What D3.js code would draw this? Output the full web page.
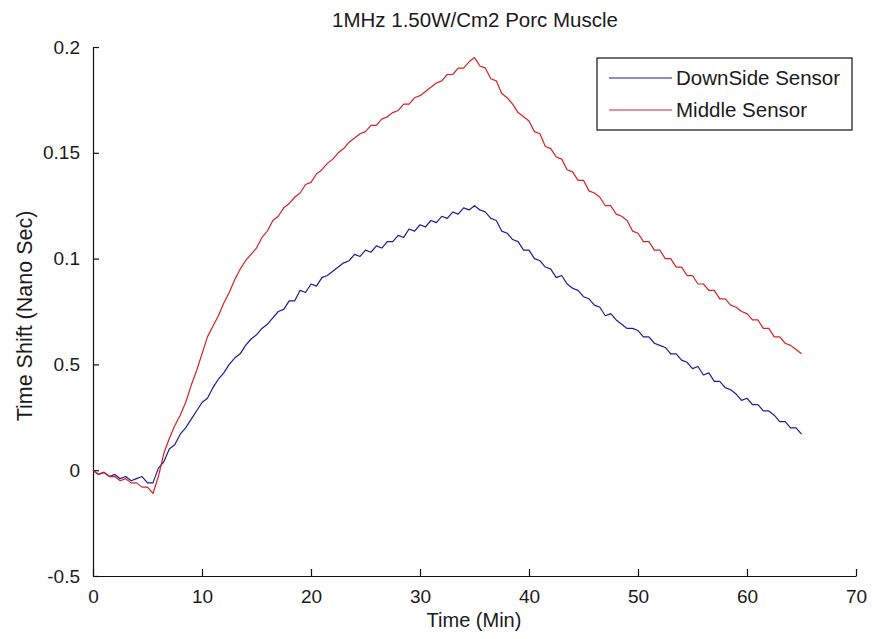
<!DOCTYPE html>
<html>
<head>
<meta charset="utf-8">
<script src="https://cdn.jsdelivr.net/npm/d3@7"></script>
<style>
  body { margin: 0; background: #fff; }
  svg { display: block; }
  text { font-family: "Liberation Sans", Arial, sans-serif; fill: #1a1a1a; }
</style>
</head>
<body>
<div id="chart"></div>
<script>
// Time samples (min)
const timeMin = [
  0, 0.5, 1, 1.5, 2, 2.5, 3, 3.5, 4, 4.5, 5, 5.5, 6, 6.5, 7, 7.5, 8, 8.5, 9, 9.5,
  10, 10.5, 11, 11.5, 12, 12.5, 13, 13.5, 14, 14.5, 15, 15.5, 16, 16.5, 17, 17.5, 18, 18.5, 19, 19.5,
  20, 20.5, 21, 21.5, 22, 22.5, 23, 23.5, 24, 24.5, 25, 25.5, 26, 26.5, 27, 27.5, 28, 28.5, 29, 29.5,
  30, 30.5, 31, 31.5, 32, 32.5, 33, 33.5, 34, 34.5, 35, 35.5, 36, 36.5, 37, 37.5, 38, 38.5, 39, 39.5,
  40, 40.5, 41, 41.5, 42, 42.5, 43, 43.5, 44, 44.5, 45, 45.5, 46, 46.5, 47, 47.5, 48, 48.5, 49, 49.5,
  50, 50.5, 51, 51.5, 52, 52.5, 53, 53.5, 54, 54.5, 55, 55.5, 56, 56.5, 57, 57.5, 58, 58.5, 59, 59.5,
  60, 60.5, 61, 61.5, 62, 62.5, 63, 63.5, 64, 64.5, 65
];

// DownSide Sensor (blue)
const downSide = [
  0.000, -0.002, -0.001, -0.003, -0.002, -0.004, -0.003, -0.005, -0.004, -0.003, -0.006, -0.006, 0.001, 0.004, 0.010, 0.012, 0.017, 0.020, 0.024, 0.028,
  0.032, 0.034, 0.039, 0.043, 0.046, 0.050, 0.053, 0.055, 0.059, 0.062, 0.064, 0.067, 0.069, 0.072, 0.075, 0.076, 0.080, 0.080, 0.085, 0.084,
  0.088, 0.087, 0.091, 0.092, 0.094, 0.096, 0.098, 0.099, 0.102, 0.101, 0.104, 0.103, 0.106, 0.105, 0.108, 0.108, 0.111, 0.110, 0.114, 0.113,
  0.116, 0.115, 0.118, 0.117, 0.120, 0.119, 0.122, 0.121, 0.124, 0.123, 0.125, 0.123, 0.122, 0.119, 0.118, 0.113, 0.112, 0.109, 0.108, 0.104,
  0.104, 0.100, 0.099, 0.096, 0.095, 0.091, 0.092, 0.088, 0.086, 0.085, 0.082, 0.081, 0.078, 0.077, 0.073, 0.074, 0.071, 0.069, 0.067, 0.067,
  0.066, 0.063, 0.063, 0.060, 0.059, 0.058, 0.055, 0.055, 0.052, 0.051, 0.048, 0.049, 0.045, 0.046, 0.042, 0.042, 0.039, 0.038, 0.036, 0.033,
  0.034, 0.031, 0.031, 0.028, 0.028, 0.026, 0.023, 0.023, 0.020, 0.020, 0.017
];

// Middle Sensor (red)
const middle = [
  0.000, -0.002, -0.001, -0.003, -0.003, -0.005, -0.004, -0.006, -0.006, -0.008, -0.008, -0.011, -0.003, 0.008, 0.015, 0.021, 0.026, 0.032, 0.040, 0.047,
  0.055, 0.063, 0.068, 0.073, 0.079, 0.084, 0.090, 0.095, 0.099, 0.102, 0.105, 0.110, 0.113, 0.118, 0.120, 0.124, 0.126, 0.129, 0.131, 0.135,
  0.136, 0.140, 0.142, 0.145, 0.147, 0.150, 0.152, 0.155, 0.157, 0.159, 0.160, 0.163, 0.163, 0.166, 0.167, 0.169, 0.170, 0.173, 0.173, 0.176,
  0.177, 0.179, 0.181, 0.183, 0.184, 0.187, 0.187, 0.190, 0.190, 0.193, 0.195, 0.191, 0.190, 0.185, 0.184, 0.178, 0.176, 0.173, 0.169, 0.167,
  0.165, 0.160, 0.159, 0.153, 0.152, 0.148, 0.147, 0.142, 0.141, 0.137, 0.137, 0.132, 0.131, 0.129, 0.125, 0.125, 0.121, 0.120, 0.118, 0.113,
  0.112, 0.108, 0.108, 0.104, 0.104, 0.100, 0.100, 0.096, 0.096, 0.092, 0.092, 0.088, 0.088, 0.085, 0.085, 0.081, 0.081, 0.078, 0.077, 0.075,
  0.074, 0.071, 0.071, 0.067, 0.067, 0.063, 0.063, 0.060, 0.059, 0.057, 0.055
];

// Axis ticks (labels as printed on the original figure)
const xTicks = [0, 10, 20, 30, 40, 50, 60, 70];
const yTicks = [-0.05, 0, 0.05, 0.1, 0.15, 0.2];
const yTickLabels = ["-0.5", "0", "0.5", "0.1", "0.15", "0.2"];

const seriesNames = ["DownSide Sensor", "Middle Sensor"];
const seriesColors = ["#1c1c96", "#d42222"];

const width = 874, height = 639;
const margin = {top: 47, right: 18, bottom: 63, left: 93};
const plotW = width - margin.left - margin.right;
const plotH = height - margin.top - margin.bottom;

const svg = d3.select("#chart")
  .append("svg")
  .attr("width", width)
  .attr("height", height);

const g = svg.append("g")
  .attr("transform", `translate(${margin.left}, ${margin.top})`);

const x = d3.scaleLinear().domain([0, 70]).range([0, plotW]);
const y = d3.scaleLinear().domain([-0.05, 0.2]).range([plotH, 0]);

// Axes: ticks point inward like MATLAB
const xAxis = g.append("g")
  .attr("transform", `translate(0, ${plotH})`)
  .call(d3.axisBottom(x).tickValues(xTicks).tickSizeInner(-7).tickSizeOuter(0).tickPadding(14).tickFormat(d3.format("d")));

const yAxis = g.append("g")
  .call(d3.axisLeft(y).tickValues(yTicks).tickSizeInner(-6).tickSizeOuter(0).tickPadding(13)
    .tickFormat((d, i) => yTickLabels[i]));

[xAxis, yAxis].forEach(a => {
  a.select(".domain").attr("stroke", "#111").attr("stroke-width", 1.2);
  a.selectAll(".tick line").attr("stroke", "#111").attr("stroke-width", 1.2);
  a.selectAll(".tick text")
    .style("font-family", "'Liberation Sans', Arial, sans-serif")
    .style("font-size", "19px")
    .attr("fill", "#1a1a1a");
});

// Lines
const seriesData = [downSide, middle];
const line = d3.line()
  .x((d, i) => x(timeMin[i]))
  .y(d => y(d));

seriesData.forEach((s, k) => {
  g.append("path")
    .datum(s)
    .attr("fill", "none")
    .attr("stroke", seriesColors[k])
    .attr("stroke-width", 1.2)
    .attr("stroke-linejoin", "round")
    .attr("d", line);
});

// Title
svg.append("text")
  .attr("x", 475)
  .attr("y", 27)
  .attr("text-anchor", "middle")
  .style("font-size", "20.5px")
  .text("1MHz 1.50W/Cm2 Porc Muscle");

// Axis labels
svg.append("text")
  .attr("x", 474)
  .attr("y", 627)
  .attr("text-anchor", "middle")
  .style("font-size", "20px")
  .text("Time (Min)");

svg.append("text")
  .attr("transform", "rotate(-90)")
  .attr("x", -316)
  .attr("y", 32)
  .attr("text-anchor", "middle")
  .style("font-size", "21.5px")
  .text("Time Shift (Nano Sec)");

// Legend
const legend = svg.append("g").attr("transform", "translate(597, 58)");
legend.append("rect")
  .attr("width", 255)
  .attr("height", 72)
  .attr("fill", "#fff")
  .attr("stroke", "#111")
  .attr("stroke-width", 1.2);

seriesNames.forEach((name, k) => {
  const ly = 20 + k * 32;
  legend.append("line")
    .attr("x1", 12).attr("x2", 75)
    .attr("y1", ly).attr("y2", ly)
    .attr("stroke", seriesColors[k])
    .attr("stroke-width", 1.2);
  legend.append("text")
    .attr("x", 79)
    .attr("y", ly + 7)
    .style("font-size", "20.5px")
    .text(name);
});
</script>
</body>
</html>
